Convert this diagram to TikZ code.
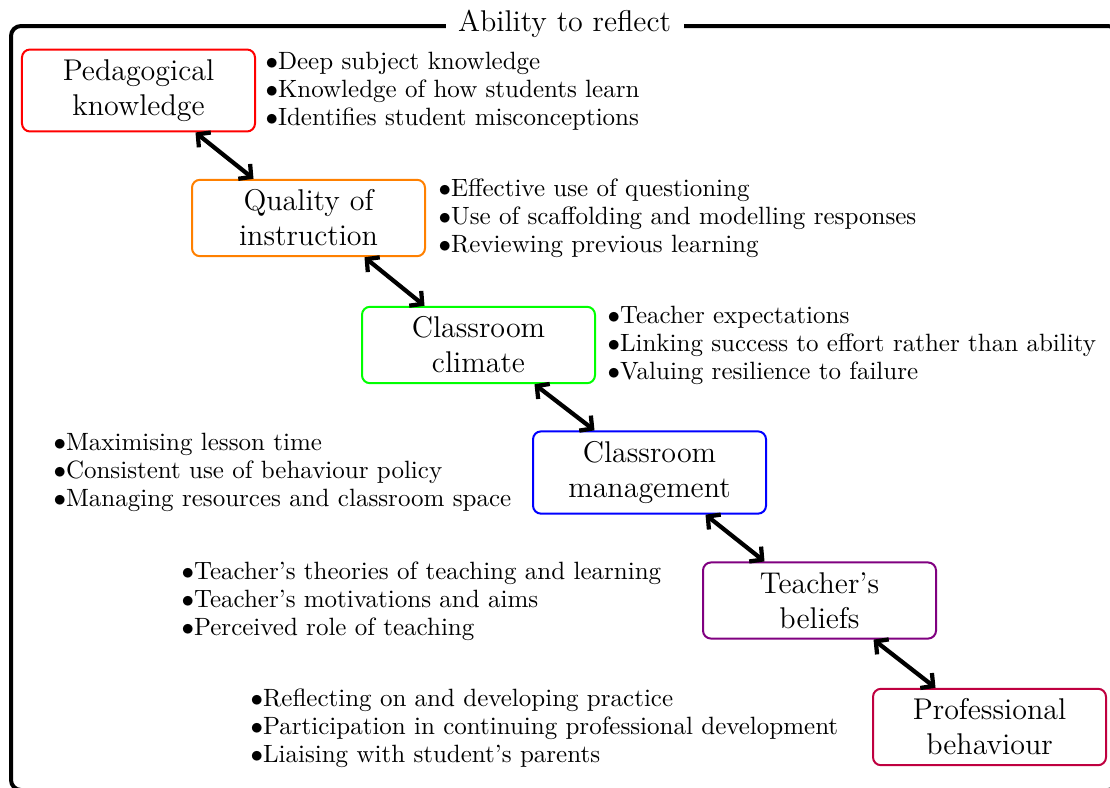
\documentclass[tikz,border=0pt]{standalone}
\usetikzlibrary{calc,arrows.meta}
\begin{document}
\begin{tikzpicture}[x=0.4pt,y=-0.4pt,
  box/.style={draw, line width=0.8pt, rounded corners=3.2pt, text width=85.2pt, align=center, inner xsep=4pt, inner ysep=4pt, font=\large},
  pts/.style={anchor=west, align=left, inner sep=0pt, font={\fontsize{10}{11.2}\selectfont}},
  arr/.style={{Straight Barb[length=3.6pt,width=7.6pt]}-{Straight Barb[length=3.6pt,width=7.6pt]}, line width=1.7pt},
  frame/.style={draw, line width=1.6pt, rounded corners=4pt}]
\useasboundingbox (0,0) rectangle (1110,787);
\clip (0,0) rectangle (1110,787);
\draw[frame] (11,26) rectangle (1118,790);
\node[fill=white, font=\large, inner xsep=5pt, inner ysep=2pt] (title) at (564.5,24) {Ability to reflect};

\node[box, draw=red] (a) at (138.5,90.5) {Pedagogical\\knowledge};
\node[box, draw=orange] (b) at (308.5,218) {Quality of\\instruction};
\node[box, draw=green] (c) at (478.5,345) {Classroom\\climate};
\node[box, draw=blue] (d) at (649.5,472.5) {Classroom\\management};
\node[box, draw=violet] (e) at (819.5,600.5) {Teacher's\\beliefs};
\node[box, draw=purple] (f) at (989.5,727) {Professional\\behaviour};

\draw[arr] ($(a.south)+(57,0)$) -- ($(b.north)+(-55,0)$);
\draw[arr] ($(b.south)+(56,0)$) -- ($(c.north)+(-54,0)$);
\draw[arr] ($(c.south)+(56,0)$) -- ($(d.north)+(-55,0)$);
\draw[arr] ($(d.south)+(56,0)$) -- ($(e.north)+(-55,0)$);
\draw[arr] ($(e.south)+(54,0)$) -- ($(f.north)+(-54,0)$);

\node[pts] (ta) at (265,91) {$\bullet$Deep subject knowledge\\$\bullet$Knowledge of how students learn\\$\bullet$Identifies student misconceptions};
\node[pts] (tb) at (438,218) {$\bullet$Effective use of questioning\\$\bullet$Use of scaffolding and modelling responses\\$\bullet$Reviewing previous learning};
\node[pts] (tc) at (607,345) {$\bullet$Teacher expectations\\$\bullet$Linking success to effort rather than ability\\$\bullet$Valuing resilience to failure};
\node[pts] (td) at (53,472) {$\bullet$Maximising lesson time\\$\bullet$Consistent use of behaviour policy\\$\bullet$Managing resources and classroom space};
\node[pts] (te) at (181,601) {$\bullet$Teacher's theories of teaching and learning\\$\bullet$Teacher's motivations and aims\\$\bullet$Perceived role of teaching};
\node[pts] (tf) at (250,728) {$\bullet$Reflecting on and developing practice\\$\bullet$Participation in continuing professional development\\$\bullet$Liaising with student's parents};
\end{tikzpicture}
\end{document}
